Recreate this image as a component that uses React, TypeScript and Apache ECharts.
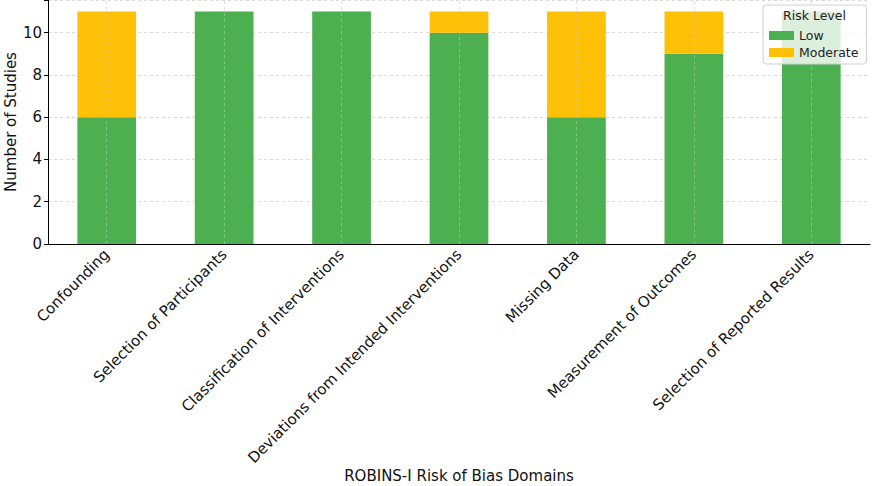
import React, { useEffect, useRef } from "react";
import * as echarts from "echarts";

const categories = [
  "Confounding",
  "Selection of Participants",
  "Classification of Interventions",
  "Deviations from Intended Interventions",
  "Missing Data",
  "Measurement of Outcomes",
  "Selection of Reported Results",
];
const lowValues = [6, 11, 11, 10, 6, 9, 11];
const moderateValues = [5, 0, 0, 1, 5, 2, 0];
const yTicks = [0, 2, 4, 6, 8, 10];
const xAxisTitle = "ROBINS-I Risk of Bias Domains";
const yAxisTitle = "Number of Studies";

const FONT = "DejaVu Sans";

export default function App() {
  const ref = useRef<HTMLDivElement>(null);
  useEffect(() => {
    document.body.style.margin = "0";
    const chart = echarts.init(ref.current!, null, { renderer: "svg" });
    const grid = "#cfcfcf";
    chart.setOption({
      animation: false,
      textStyle: { fontFamily: FONT },
      grid: {
        left: 48,
        right: 8,
        top: 0,
        bottom: 242,
        containLabel: false,
        outerBoundsMode: "none",
      },
      legend: {
        orient: "vertical",
        left: 763,
        top: 5,
        data: ["Low", "Moderate"],
        itemWidth: 25,
        itemHeight: 9,
        itemGap: 4,
        padding: [24, 8, 5, 6],
        backgroundColor: "rgba(255,255,255,0.8)",
        borderColor: "#d0d0d0",
        borderWidth: 1,
        borderRadius: 3,
        textStyle: { fontFamily: FONT, fontSize: 12.5, color: "#222" },
        icon: "rect",
        selectedMode: false,
        z: 10,
      },
      graphic: [
        {
          type: "text",
          left: 783,
          top: 9,
          z: 100,
          style: { text: "Risk Level", font: `12.5px "${FONT}"`, fill: "#222" },
        },
        {
          type: "text",
          x: 11,
          y: 122,
          rotation: Math.PI / 2,
          z: 100,
          style: {
            text: yAxisTitle,
            font: `15px "${FONT}"`,
            fill: "#111",
            align: "center",
            verticalAlign: "middle",
          },
        },
        {
          type: "text",
          x: 459,
          y: 476,
          z: 100,
          style: {
            text: xAxisTitle,
            font: `15px "${FONT}"`,
            fill: "#111",
            align: "center",
            verticalAlign: "middle",
          },
        },
      ],
      xAxis: {
        type: "category",
        data: categories,
        axisLine: { lineStyle: { color: "#000", width: 1 } },
        axisTick: { alignWithLabel: true, length: 4, lineStyle: { color: "#000" } },
        axisLabel: {
          rotate: 45,
          interval: 0,
          margin: 8,
          fontFamily: FONT,
          fontSize: 15,
          color: "#111",
        },
        splitLine: { show: false },
      },
      yAxis: {
        type: "value",
        min: 0,
        max: 11.55,
        interval: 2,
        axisLine: { show: true, lineStyle: { color: "#000", width: 1 } },
        axisTick: { show: true, length: 4, lineStyle: { color: "#000" } },
        axisLabel: {
          fontFamily: FONT,
          fontSize: 15,
          color: "#111",
          margin: 6,
          formatter: (v: number) => (yTicks.includes(v) ? String(v) : ""),
        },
        splitLine: {
          show: true,
          lineStyle: { color: grid, type: [3, 3], width: 0.8 },
        },
      },
      series: [
        {
          name: "Low",
          type: "bar",
          stack: "risk",
          data: lowValues,
          barWidth: "50%",
          itemStyle: { color: "#4CAF50" },
        },
        {
          name: "Moderate",
          type: "bar",
          stack: "risk",
          data: moderateValues,
          barWidth: "50%",
          itemStyle: { color: "#FFC107" },
          markLine: {
            silent: true,
            symbol: "none",
            label: { show: false },
            lineStyle: { color: "#c8c8c8", type: [3, 3], width: 0.8, opacity: 0.7 },
            data: categories.map((c) => ({ xAxis: c })),
            z: 5,
          },
        },
      ],
    });
    return () => chart.dispose();
  }, []);
  return <div ref={ref} style={{ width: 878, height: 486 }} />;
}
